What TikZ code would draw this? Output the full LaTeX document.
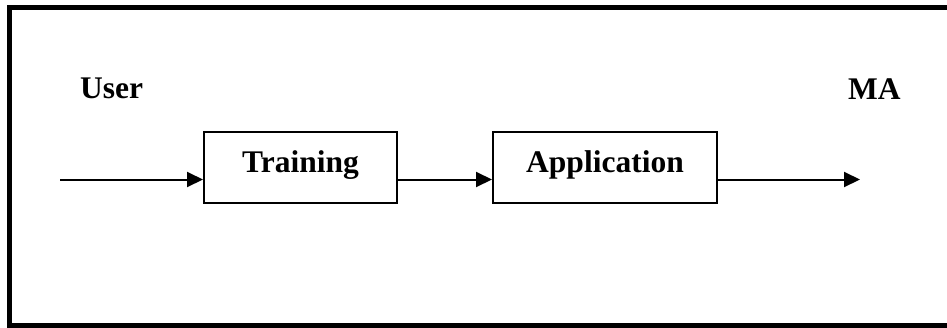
\documentclass[tikz,border=0pt]{standalone}
\usepackage{fontspec}
\setmainfont{Liberation Serif}
\usetikzlibrary{arrows.meta}

\tikzset{
  frame/.style={line width=5.5pt},
  lbl/.style={inner sep=0pt, font=\fontsize{31.5}{36}\selectfont\bfseries},
  stagebox/.style={draw, line width=2pt, inner sep=0pt,
    text height=22pt, text depth=13pt, minimum height=71pt,
    font=\fontsize{31.5}{36}\selectfont\bfseries},
  flow/.style={line width=2pt, -{Triangle[length=16pt, width=15pt]}}
}

\begin{document}
\begin{tikzpicture}[x=1pt, y=-1pt]
  \useasboundingbox (0,0) rectangle (947,327);
  \clip (0,0) rectangle (947,327);

  % outer frame (its right side lies beyond the page edge)
  \draw[frame] (9.5,7.5) rectangle (953,325.75);

  % end labels
  \node[lbl, anchor=base west] (user) at (80,98) {User};
  \node[lbl, anchor=base west] (ma) at (848,99) {MA};

  % processing stages
  \node[stagebox, minimum width=193pt] (train) at (300.5,167.5) {Training};
  \node[stagebox, minimum width=224pt] (app) at (605,167.5) {Application};

  % free ends of the flow line
  \coordinate (in) at (60,179.5);
  \coordinate (out) at (860,179.5);

  % flow
  \draw[flow] (in) -- (in -| train.west);
  \draw[flow] (train.east |- in) -- (app.west |- in);
  \draw[flow] (app.east |- in) -- (out);
\end{tikzpicture}
\end{document}
